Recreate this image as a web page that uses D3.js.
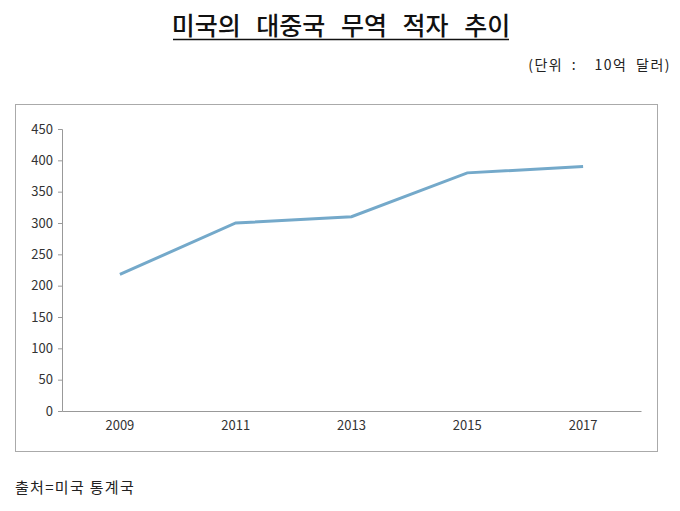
<!DOCTYPE html>
<html>
<head>
<meta charset="utf-8">
<script src="https://cdn.jsdelivr.net/npm/d3@7"></script>
<style>
  body { margin: 0; background: #fff; }
  svg { display: block; }
</style>
</head>
<body>
<div id="chart"></div>
<script>
'use strict';

var years = ['2009', '2011', '2013', '2015', '2017'];
var deficit = [218, 300, 310, 380, 390];
var yTicks = [0, 50, 100, 150, 200, 250, 300, 350, 400, 450];

var width = 680, height = 511;
var font = '"Noto Sans CJK KR", "Noto Sans", sans-serif';

var svg = d3.select('#chart').append('svg')
  .attr('width', width)
  .attr('height', height);

// title with underline
var title = svg.append('text')
  .attr('x', 341)
  .attr('y', 35)
  .attr('text-anchor', 'middle')
  .attr('font-family', font)
  .attr('font-size', 25)
  .attr('font-weight', 500)
  .attr('word-spacing', 10)
  .attr('fill', '#111')
  .text('미국의 대중국 무역 적자 추이');
var tb = title.node().getBBox();
svg.append('line')
  .attr('x1', 173).attr('x2', 509)
  .attr('y1', 39.5).attr('y2', 39.5)
  .attr('stroke', '#111').attr('stroke-width', 1.5);

svg.append('text')
  .attr('x', 671)
  .attr('y', 70)
  .attr('text-anchor', 'end')
  .attr('font-family', font)
  .attr('font-size', 14)
  .attr('letter-spacing', 1.5)
  .attr('word-spacing', 4)
  .attr('fill', '#222')
  .attr('xml:space', 'preserve')
  .text('(단위 :  10억 달러)');

// frame
svg.append('rect')
  .attr('x', 15.5).attr('y', 104.5)
  .attr('width', 642).attr('height', 347)
  .attr('fill', 'none')
  .attr('stroke', '#aaa');

var x = d3.scaleBand().domain(years).range([62, 641]);
var y = d3.scaleLinear().domain([0, 450]).range([411, 129]);

var yAxis = svg.append('g')
  .attr('transform', 'translate(62,0)')
  .call(d3.axisLeft(y).tickValues(yTicks).tickSize(4).tickPadding(5));
yAxis.select('.domain').attr('stroke', '#999');
yAxis.selectAll('.tick line').attr('stroke', '#999');
yAxis.selectAll('text')
  .attr('font-family', font)
  .attr('font-size', 13)
  .attr('fill', '#333');

var xAxis = svg.append('g')
  .attr('transform', 'translate(0,411)')
  .call(d3.axisBottom(x).tickSize(0).tickPadding(10));
xAxis.select('.domain').attr('stroke', '#999');
xAxis.selectAll('text')
  .attr('font-family', font)
  .attr('font-size', 13)
  .attr('fill', '#333');

var line = d3.line()
  .x(function (d, i) { return x(years[i]) + x.bandwidth() / 2; })
  .y(function (d) { return y(d); });

svg.append('path')
  .datum(deficit)
  .attr('d', line)
  .attr('fill', 'none')
  .attr('stroke', '#74a9ca')
  .attr('stroke-width', 3);

svg.append('text')
  .attr('x', 15)
  .attr('y', 493)
  .attr('font-family', font)
  .attr('font-size', 15)
  .attr('letter-spacing', 1.3)
  .attr('fill', '#222')
  .text('출처=미국 통계국');
</script>
</body>
</html>
